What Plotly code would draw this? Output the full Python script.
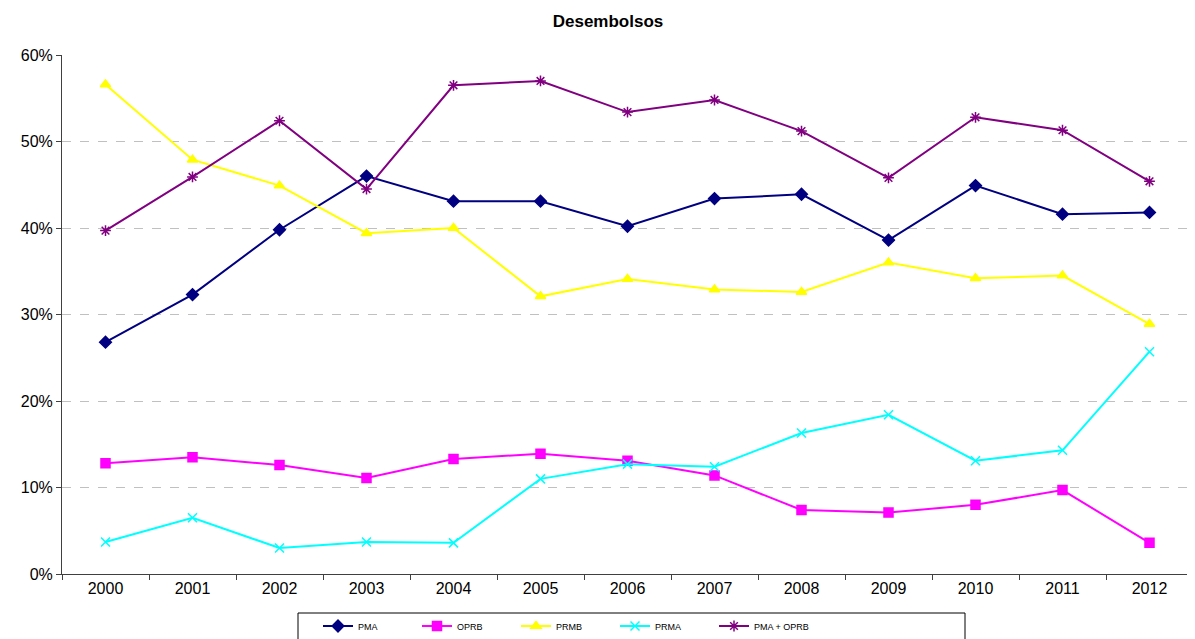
import plotly.graph_objects as go

years = ["2000", "2001", "2002", "2003", "2004", "2005", "2006",
         "2007", "2008", "2009", "2010", "2011", "2012"]
pma = [0.268, 0.323, 0.398, 0.460, 0.431, 0.431, 0.402, 0.434, 0.439, 0.386, 0.449, 0.416, 0.418]
oprb = [0.128, 0.135, 0.126, 0.111, 0.133, 0.139, 0.131, 0.114, 0.074, 0.071, 0.080, 0.097, 0.036]
prmb = [0.566, 0.479, 0.449, 0.394, 0.400, 0.321, 0.341, 0.329, 0.326, 0.360, 0.342, 0.345, 0.289]
prma = [0.037, 0.065, 0.030, 0.037, 0.036, 0.110, 0.127, 0.124, 0.163, 0.184, 0.131, 0.143, 0.257]
pma_oprb = [0.397, 0.459, 0.524, 0.445, 0.565, 0.570, 0.534, 0.548, 0.512, 0.458, 0.528, 0.513, 0.454]

series = [
    ("PMA", pma, "#000080", "diamond", 9),
    ("OPRB", oprb, "#FF00FF", "square", 9),
    ("PRMB", prmb, "#FFFF00", "triangle-up", 9),
    ("PRMA", prma, "#00FFFF", "x-thin-open", 9),
    ("PMA + OPRB", pma_oprb, "#800080", "asterisk-open", 9),
]

fig = go.Figure()
for name, vals, col, sym, sz in series:
    fig.add_trace(go.Scatter(
        x=years, y=vals, name=name, mode="lines+markers",
        line=dict(color=col, width=2),
        marker=dict(symbol=sym, size=sz, color=col,
                    line=dict(color=col, width=1.5)),
    ))

OFF = 8  # default page body margin
W, H = 1195 - OFF, 639 - OFF
L, R, T, B = 62 - OFF, 2, 55 - OFF, 65
pw, ph = W - L - R, H - T - B

def px2paper_x(px):
    return (px - OFF - L) / pw

def px2paper_y(py):
    return (H - B - (py - OFF)) / ph

fig.add_shape(type="rect", xref="paper", yref="paper",
              x0=px2paper_x(298), x1=px2paper_x(965),
              y0=px2paper_y(650), y1=px2paper_y(613),
              line=dict(color="black", width=1), fillcolor="white", layer="below")

fig.update_layout(
    width=W, height=H,
    margin=dict(l=L, r=R, t=T, b=B),
    paper_bgcolor="white", plot_bgcolor="white",
    font=dict(family="Liberation Sans, Arial, sans-serif", color="black"),
    title=dict(text="<b>Desembolsos</b>", x=(608 - OFF) / W, xanchor="center",
               y=1 - (21 - OFF) / H, yanchor="middle", font=dict(size=17)),
    showlegend=True,
    legend=dict(orientation="h", xref="container", yref="container",
                x=(318 - OFF) / W, xanchor="left", y=1 - (626 - OFF) / H, yanchor="middle",
                entrywidth=54, entrywidthmode="pixels",
                font=dict(size=9), bgcolor="rgba(0,0,0,0)",
                itemwidth=30, tracegroupgap=0),
    xaxis=dict(type="category", range=[-0.5, 12.5], showgrid=False,
               showline=True, linecolor="#404040", linewidth=1,
               ticks="outside", tickson="boundaries", ticklen=5,
               tickcolor="#404040", tickfont=dict(size=16), zeroline=False),
    yaxis=dict(range=[0, 0.6], tickvals=[0, 0.1, 0.2, 0.3, 0.4, 0.5, 0.6],
               tickformat=".0%", showgrid=True, gridcolor="#C0C0C0",
               griddash="dash", gridwidth=1, showline=True,
               linecolor="#404040", linewidth=1, ticks="outside", ticklen=5,
               tickcolor="#404040", tickfont=dict(size=16), zeroline=False),
)

fig.write_html("out.html")
